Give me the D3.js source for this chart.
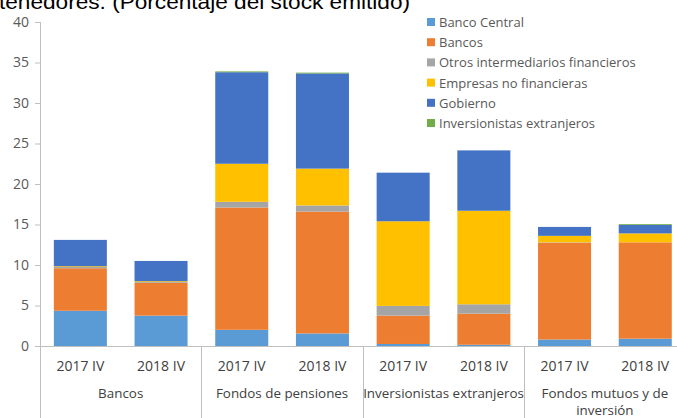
<!DOCTYPE html>
<html><head><meta charset="utf-8">
<script src="https://cdn.jsdelivr.net/npm/d3@7"></script>
<style>body{margin:0;background:#fff;overflow:hidden}svg{display:block}</style>
</head><body>
<svg id="c" width="677" height="418"></svg>
<script>
const groups = ["Bancos","Fondos de pensiones","Inversionistas extranjeros","Fondos mutuos y de inversión"];
const periods = ["2017 IV","2018 IV"];
const seriesNames = ["Banco Central","Bancos","Otros intermediarios financieros","Empresas no financieras","Gobierno","Inversionistas extranjeros"];
const colors = ["#5B9BD5","#ED7D31","#A5A5A5","#FFC000","#4472C4","#70AD47"];
// values per series, order: Bancos 17, 18, Pensiones 17, 18, InvExt 17, 18, Mutuos 17, 18
const bancoCentral = [4.35, 3.75, 2.0, 1.55, 0.25, 0.15, 0.8, 0.9];
const bancos       = [5.25, 4.05, 15.1, 15.05, 3.5, 3.85, 11.95, 11.9];
const otros        = [0.15, 0.1, 0.7, 0.75, 1.2, 1.15, 0.05, 0.0];
const empresas     = [0.1, 0.1, 4.7, 4.55, 10.45, 11.55, 0.8, 1.1];
const gobierno     = [3.25, 2.5, 11.3, 11.75, 6.0, 7.45, 1.1, 1.05];
const invExt       = [0.0, 0.0, 0.1, 0.1, 0.0, 0.0, 0.0, 0.1];
const yTicks = [0,5,10,15,20,25,30,35,40];
const title = "tenedores. (Porcentaje del stock emitido)";

const allSeries = [bancoCentral,bancos,otros,empresas,gobierno,invExt];
const cats = [];
groups.forEach((g,gi)=>periods.forEach((p,pi)=>cats.push({id:gi*2+pi, g, p})));
const rows = cats.map((c,i)=>{const r={id:c.id}; seriesNames.forEach((s,si)=>r[s]=allSeries[si][i]); return r;});
const stacked = d3.stack().keys(seriesNames)(rows);

const svg = d3.select("#c");
const x = d3.scaleBand().domain(cats.map(c=>c.id)).range([40, 685.6]).paddingInner(0.343).paddingOuter(0.1715);
const y = d3.scaleLinear().domain([0,40]).range([346,22]);
const gray = "#595959", lineC = "#BFBFBF";
const ff = "Open Sans, sans-serif";

svg.append("text").attr("x",-1).attr("y",9).attr("font-family","Liberation Sans, Arial, sans-serif")
  .attr("font-size",20).attr("fill","#000").attr("textLength",411).attr("lengthAdjust","spacingAndGlyphs").text(title);

// y axis
const ya = svg.append("g").attr("transform","translate(40,0)").call(d3.axisLeft(y).tickValues(yTicks).tickSize(5).tickPadding(6));
ya.select(".domain").remove();
ya.selectAll(".tick line").attr("stroke",lineC);
ya.selectAll(".tick text").attr("fill",gray).attr("font-size",14).attr("font-family",ff);
svg.append("line").attr("x1",40.5).attr("x2",40.5).attr("y1",y(40)).attr("y2",418).attr("stroke",lineC);

// bars
svg.append("g").selectAll("g").data(stacked).join("g").attr("fill",(d,i)=>colors[i])
  .selectAll("rect").data(d=>d).join("rect")
  .attr("x",d=>x(d.data.id)).attr("width",x.bandwidth())
  .attr("y",d=>y(d[1])).attr("height",d=>Math.max(0,y(d[0])-y(d[1])));

// baseline
svg.append("line").attr("x1",35).attr("x2",686).attr("y1",346.5).attr("y2",346.5).attr("stroke",lineC);
// group separators
const step = x.step();
groups.forEach((g,gi)=>{
  if(gi>0){const sx = Math.round(40 + gi*2*step)+0.5;
    svg.append("line").attr("x1",sx).attr("x2",sx).attr("y1",346).attr("y2",418).attr("stroke",lineC);}
});
// category labels
svg.append("g").selectAll("text").data(cats).join("text")
  .attr("x",d=>x(d.id)+x.bandwidth()/2).attr("y",371).attr("text-anchor","middle")
  .attr("fill","#404040").attr("font-size",14).attr("font-family",ff).text(d=>d.p);
// group labels
groups.forEach((g,gi)=>{
  const cx = 40 + (gi*2+1)*step;
  const lines = g==="Fondos mutuos y de inversión" ? ["Fondos mutuos y de","inversión"] : [g];
  lines.forEach((l,li)=>svg.append("text").attr("x",cx).attr("y",398+li*17).attr("text-anchor","middle")
    .attr("fill","#404040").attr("font-size",13.4).attr("font-family",ff).text(l));
});

// legend
const lg = svg.append("g");
seriesNames.forEach((s,i)=>{
  const ly = 22 + i*20.2;
  lg.append("rect").attr("x",427).attr("y",ly-4).attr("width",8).attr("height",8).attr("fill",colors[i]);
  lg.append("text").attr("x",439).attr("y",ly+5).attr("fill",gray).attr("font-size",13)
    .attr("font-family",ff).text(s);
});
</script>
</body></html>
